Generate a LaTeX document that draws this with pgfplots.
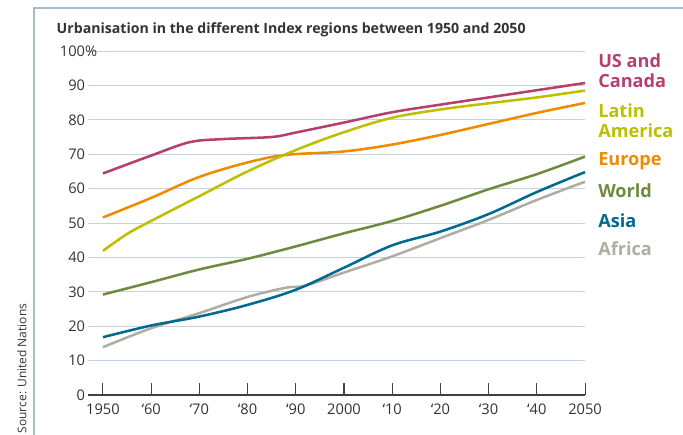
\documentclass[border=0pt]{standalone}
\usepackage{pgfplots}
\pgfplotsset{compat=1.18}
\usepackage{fontspec}
\setmainfont{Open Sans}
\definecolor{usc}{HTML}{B5406E}
\definecolor{latam}{HTML}{BDBF00}
\definecolor{europe}{HTML}{F28A00}
\definecolor{world}{HTML}{6E8B3D}
\definecolor{asia}{HTML}{00698F}
\definecolor{africa}{HTML}{B0ADA3}
\definecolor{gridblue}{HTML}{C3D3E4}
\definecolor{framec}{HTML}{A9B9CC}
\definecolor{txt}{HTML}{333333}
\begin{document}
\begin{tikzpicture}[x=0.75pt,y=0.75pt]
% pixel grid: 683 x 435, y counted from the bottom
\useasboundingbox (0,0) rectangle (683,435);
\draw[framec, line width=0.8pt] (34,-5) -- (34,427) -- (690,427);
\node[rotate=90, anchor=west, text=txt, font=\fontsize{9}{10}\selectfont] at (22,-3) {Source: United Nations};
\node[anchor=west, text=txt, font=\bfseries\fontsize{10.6}{12}\selectfont] at (52,405) {Urbanisation in the different Index regions between 1950 and 2050};

\begin{axis}[
    scale only axis,
    at={(66.375pt,30pt)}, anchor=south west,
    width=372.4pt, height=258pt,
    xmin=1947, xmax=2050, ymin=0, ymax=100,
    axis x line*=bottom, axis y line*=left,
    x axis line style={-, draw=black!75, line width=0.8pt},
    y axis line style={draw=none},
    xtick={1950,1960,...,2050},
    xticklabels={1950,‘60,‘70,‘80,‘90,2000,‘10,‘20,‘30,‘40,2050},
    ytick={0,10,...,100},
    yticklabels={0,10,20,30,40,50,60,70,80,90,100\rlap{\%}},
    ytick style={draw=none},
    xtick style={draw=black!75, line width=0.8pt},
    tick align=inside, major tick length=9pt,
    ymajorgrids, grid style={gridblue, line width=0.7pt},
    tick label style={text=txt, font=\fontsize{11}{12}\selectfont},
    yticklabel style={xshift=1pt},
    xticklabel style={yshift=-3pt},
    every axis plot/.append style={line width=1.9pt, smooth, tension=0.55, mark=none},
    clip=false,
]
\addplot[africa] coordinates {(1950,13.9)(1960,19.4)(1970,23.8)(1980,28.5)(1988,31.2)(1992,31.8)(2000,35.6)(2010,40.3)(2020,45.6)(2030,50.9)(2040,56.7)(2050,62)};
\addplot[asia] coordinates {(1950,16.8)(1960,20.2)(1970,22.8)(1980,26.2)(1990,30.6)(2000,37)(2010,43.5)(2020,47.5)(2030,52.6)(2040,59)(2050,64.8)};
\addplot[world] coordinates {(1950,29.2)(1960,32.8)(1970,36.5)(1980,39.6)(1990,43.2)(2000,47)(2010,50.6)(2020,55)(2030,59.8)(2040,64.2)(2050,69.3)};
\addplot[europe] coordinates {(1950,51.6)(1960,57.3)(1970,63.4)(1980,67.6)(1988,69.8)(2000,70.8)(2010,72.8)(2020,75.6)(2030,78.8)(2040,82)(2050,84.9)};
\addplot[latam] coordinates {(1950,41.9)(1955,46.8)(1960,50.6)(1970,57.8)(1980,65)(1990,71.2)(2000,76.4)(2010,80.6)(2020,83)(2030,84.8)(2040,86.5)(2050,88.5)};
\addplot[usc] coordinates {(1950,64.4)(1960,69.6)(1968,73.5)(1975,74.4)(1985,75)(1990,76.3)(2000,79.2)(2010,82.2)(2020,84.4)(2030,86.5)(2040,88.6)(2050,90.7)};
\end{axis}

\begin{scope}[every node/.style={anchor=west, font=\bfseries\fontsize{13.6}{15}\selectfont, inner sep=0pt}]
\node[text=usc, align=left] at (598,364) {US and\\Canada};
\node[text=latam, align=left] at (598,314) {Latin\\America};
\node[text=europe] at (598,274) {Europe};
\node[text=world] at (598,244) {World};
\node[text=asia] at (598,214) {Asia};
\node[text=africa] at (598,186) {Africa};
\end{scope}
\end{tikzpicture}
\end{document}
